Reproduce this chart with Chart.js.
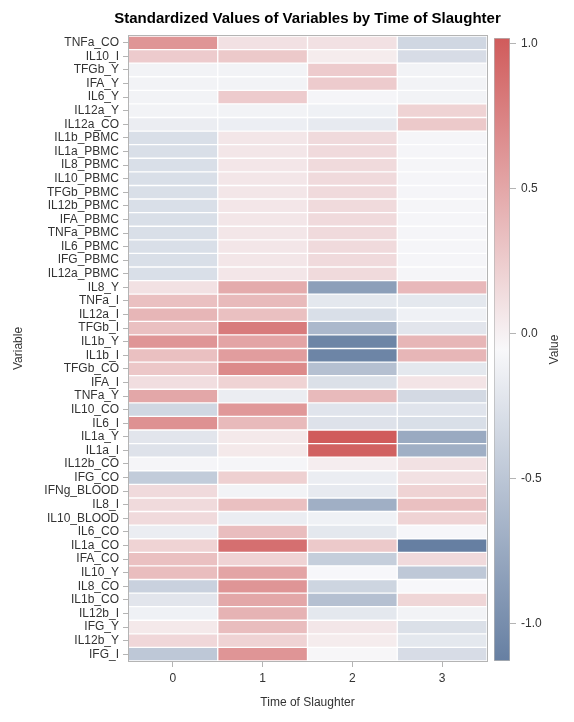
<!DOCTYPE html>
<html>
<head>
<meta charset="utf-8">
<script src="https://cdn.jsdelivr.net/npm/chart.js@4"></script>
<style>
  html, body { margin: 0; padding: 0; background: #fff; }
  #wrap { position: relative; width: 574px; height: 722px; }
  #heat { position: absolute; left: 0; top: 0; }
  #bar { position: absolute; left: 490px; top: 0; }
</style>
</head>
<body>
<div id="wrap">
  <canvas id="heat" width="574" height="722"></canvas>
  <canvas id="bar" width="84" height="722"></canvas>
</div>
<script>
// rows of the heat map, top to bottom
const variables = [
  'TNFa_CO', 'IL10_I', 'TFGb_Y', 'IFA_Y', 'IL6_Y', 'IL12a_Y', 'IL12a_CO',
  'IL1b_PBMC', 'IL1a_PBMC', 'IL8_PBMC', 'IL10_PBMC', 'TFGb_PBMC', 'IL12b_PBMC',
  'IFA_PBMC', 'TNFa_PBMC', 'IL6_PBMC', 'IFG_PBMC', 'IL12a_PBMC',
  'IL8_Y', 'TNFa_I', 'IL12a_I', 'TFGb_I', 'IL1b_Y', 'IL1b_I', 'TFGb_CO', 'IFA_I',
  'TNFa_Y', 'IL10_CO', 'IL6_I', 'IL1a_Y', 'IL1a_I', 'IL12b_CO', 'IFG_CO',
  'IFNg_BLOOD', 'IL8_I', 'IL10_BLOOD', 'IL6_CO', 'IL1a_CO', 'IFA_CO', 'IL10_Y',
  'IL8_CO', 'IL1b_CO', 'IL12b_I', 'IFG_Y', 'IL12b_Y', 'IFG_I'
];

// time of slaughter columns
const timeLabels = ['0', '1', '2', '3'];

// standardized values, one array per time (same order as variables)
const time0 = [
  0.62, 0.25, -0.10, -0.10, -0.10, -0.10, -0.15,
  -0.28, -0.28, -0.28, -0.28, -0.28, -0.28,
  -0.28, -0.28, -0.28, -0.28, -0.28,
  0.10, 0.33, 0.40, 0.33, 0.62, 0.33, 0.28, 0.12,
  0.50, -0.35, 0.65, -0.22, -0.25, -0.08, -0.45,
  0.15, 0.15, 0.15, -0.15, 0.20, 0.33, 0.35,
  -0.40, -0.22, -0.12, 0.05, 0.17, -0.48
];
const time1 = [
  0.10, 0.27, -0.10, -0.10, 0.25, -0.10, -0.14,
  0.07, 0.07, 0.07, 0.07, 0.07, 0.07,
  0.07, 0.07, 0.07, 0.07, 0.07,
  0.47, 0.37, 0.33, 0.80, 0.52, 0.57, 0.70, 0.20,
  -0.15, 0.60, 0.37, 0.05, 0.05, -0.08, 0.22,
  -0.10, 0.33, -0.15, 0.35, 0.88, 0.20, 0.52,
  0.62, 0.50, 0.42, 0.35, 0.20, 0.62
];
const time2 = [
  0.10, 0.03, 0.25, 0.25, -0.08, -0.12, -0.18,
  0.15, 0.15, 0.15, 0.15, 0.15, 0.15,
  0.15, 0.15, 0.15, 0.15, 0.15,
  -0.85, -0.20, -0.28, -0.62, -1.08, -1.08, -0.55, -0.27,
  0.37, -0.23, -0.25, 1.02, 0.98, 0.02, -0.15,
  -0.18, -0.70, -0.12, -0.20, 0.27, -0.43, -0.06,
  -0.37, -0.55, -0.20, 0.07, 0.03, -0.04
];
const time3 = [
  -0.35, -0.30, -0.10, -0.10, -0.10, 0.20, 0.27,
  -0.08, -0.08, -0.08, -0.08, -0.08, -0.08,
  -0.08, -0.08, -0.08, -0.08, -0.08,
  0.38, -0.20, -0.12, -0.22, 0.40, 0.40, -0.20, 0.08,
  -0.33, -0.23, -0.28, -0.75, -0.70, 0.10, 0.10,
  0.20, 0.33, 0.20, -0.07, -1.13, 0.15, -0.48,
  -0.06, 0.18, -0.10, -0.27, -0.20, -0.30
];
const seriesByTime = [time0, time1, time2, time3];

// colour bar tick labels
const colorTicks = [-1.0, -0.5, 0.0, 0.5, 1.0];

const allValues = seriesByTime.flat();
const vMin = Math.min(...allValues);
const vMax = Math.max(...allValues);

// three colour ramp, midpoint is the middle of the data range
const LOW = [102, 127, 162];
const MID = [248, 248, 250];
const HIGH = [208, 91, 91];

function colorFor(v) {
  const t = (v - vMin) / (vMax - vMin);
  let a, b, f;
  if (t < 0.5) { a = LOW; b = MID; f = t / 0.5; }
  else { a = MID; b = HIGH; f = (t - 0.5) / 0.5; }
  const c = a.map((x, i) => Math.round(x + (b[i] - x) * f));
  return 'rgb(' + c.join(',') + ')';
}

const TEXT = '#333333';
const FONT = { family: 'Arial, "Liberation Sans", sans-serif', size: 12 };

// frame round the plot and the title
const framePlugin = {
  id: 'frame',
  afterDraw(chart) {
    const { ctx, chartArea: a } = chart;
    ctx.save();
    ctx.strokeStyle = '#b4b4b4';
    ctx.lineWidth = 1;
    ctx.strokeRect(a.left + 0.5, a.top - 0.5, a.right - a.left, a.bottom - a.top + 1);
    ctx.fillStyle = '#000';
    ctx.font = 'bold 15px Arial, "Liberation Sans", sans-serif';
    ctx.textAlign = 'center';
    ctx.textBaseline = 'middle';
    ctx.fillText('Standardized Values of Variables by Time of Slaughter', (a.left + a.right) / 2, 19);
    ctx.restore();
  }
};

new Chart(document.getElementById('heat'), {
  type: 'bar',
  data: {
    labels: variables,
    datasets: timeLabels.map((t, i) => ({
      label: t,
      data: seriesByTime[i].map(() => [i - 0.5, i + 0.5]),
      backgroundColor: seriesByTime[i].map(colorFor),
      borderColor: 'rgba(255,255,255,0.15)',
      borderWidth: 1,
      borderSkipped: false,
      grouped: false,
      barPercentage: 1,
      categoryPercentage: 1
    }))
  },
  options: {
    indexAxis: 'y',
    responsive: false,
    animation: false,
    layout: { padding: { top: 36, right: 87, left: 0, bottom: 0 } },
    plugins: { legend: { display: false }, tooltip: { enabled: false } },
    scales: {
      x: {
        type: 'linear',
        min: -0.5,
        max: 3.5,
        afterBuildTicks: s => { s.ticks = timeLabels.map((t, i) => ({ value: i })); },
        afterFit: s => { s.height = 61; },
        ticks: { callback: v => timeLabels[v], color: TEXT, font: FONT, padding: 4 },
        grid: { drawOnChartArea: false, tickLength: 6, color: '#b4b4b4' },
        border: { color: '#b4b4b4' },
        title: { display: true, text: 'Time of Slaughter', color: TEXT, font: FONT, padding: { top: 0, bottom: 12 } }
      },
      y: {
        afterFit: s => { s.width = 128; },
        ticks: { color: TEXT, font: FONT, padding: 4, autoSkip: false },
        grid: { offset: false, drawOnChartArea: false, tickLength: 5, color: '#b4b4b4' },
        border: { color: '#b4b4b4' },
        title: { display: true, text: 'Variable', color: TEXT, font: FONT, padding: { top: 11, bottom: 0 } }
      }
    }
  },
  plugins: [framePlugin]
});

// colour bar legend
const valueTitle = {
  id: 'valueTitle',
  afterDraw(chart) {
    const { ctx, chartArea: a } = chart;
    ctx.save();
    ctx.fillStyle = TEXT;
    ctx.font = '12px Arial, "Liberation Sans", sans-serif';
    ctx.textAlign = 'center';
    ctx.textBaseline = 'middle';
    ctx.translate(65, (a.top + a.bottom) / 2);
    ctx.rotate(-Math.PI / 2);
    ctx.fillText('Value', 0, 0);
    ctx.restore();
  }
};

function rampGradient(context) {
  const chart = context.chart;
  const y = chart.scales.y;
  if (!chart.chartArea || !y) return colorFor((vMin + vMax) / 2);
  const g = chart.ctx.createLinearGradient(0, y.getPixelForValue(vMin), 0, y.getPixelForValue(vMax));
  g.addColorStop(0, colorFor(vMin));
  g.addColorStop(0.5, colorFor((vMin + vMax) / 2));
  g.addColorStop(1, colorFor(vMax));
  return g;
}

const colorBar = new Chart(document.getElementById('bar'), {
  type: 'bar',
  data: {
    labels: ['Value'],
    datasets: [{
      data: [[vMin, vMax]],
      backgroundColor: rampGradient,
      borderColor: '#b4b4b4',
      borderWidth: 1,
      borderSkipped: false,
      barPercentage: 1,
      categoryPercentage: 1
    }]
  },
  options: {
    responsive: false,
    animation: false,
    layout: { padding: { top: 38, left: 4, right: 0, bottom: 61 } },
    plugins: { legend: { display: false }, tooltip: { enabled: false } },
    scales: {
      x: { display: false },
      y: {
        position: 'right',
        min: vMin,
        max: vMax,
        afterBuildTicks: s => { s.ticks = colorTicks.map(v => ({ value: v })); },
        afterFit: s => { s.width = 64; },
        ticks: { callback: v => v.toFixed(1), color: TEXT, font: FONT, padding: 5 },
        grid: { drawOnChartArea: false, tickLength: 6, color: '#b4b4b4' },
        border: { display: false }
      }
    }
  },
  plugins: [valueTitle]
});
colorBar.update();
</script>
</body>
</html>
